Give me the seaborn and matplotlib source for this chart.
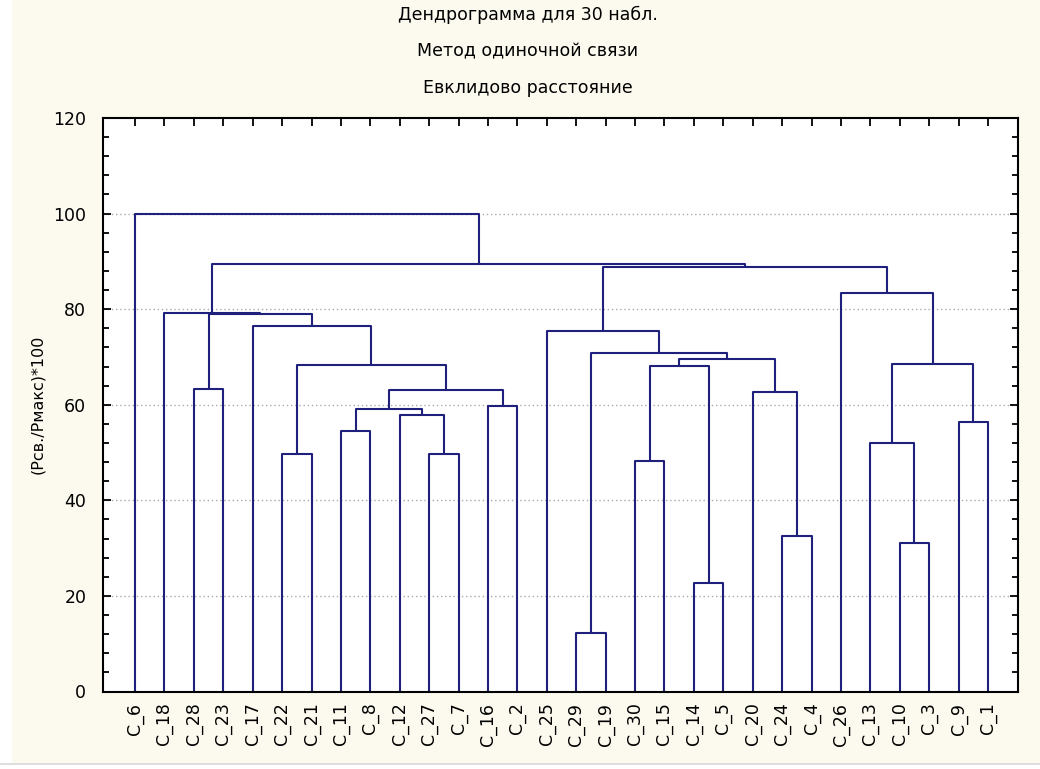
import matplotlib
matplotlib.use("Agg")
import matplotlib.pyplot as plt
from matplotlib.ticker import MultipleLocator
from matplotlib.patches import Rectangle
from matplotlib.lines import Line2D
import pandas as pd
import seaborn as sns

# Leaf order along the horizontal axis
leaf_labels = ["C_6", "C_18", "C_28", "C_23", "C_17", "C_22", "C_21", "C_11", "C_8",
               "C_12", "C_27", "C_7", "C_16", "C_2", "C_25", "C_29", "C_19", "C_30",
               "C_15", "C_14", "C_5", "C_20", "C_24", "C_4", "C_26", "C_13", "C_10",
               "C_3", "C_9", "C_1"]

# Single-linkage merge steps: the k-th step joins merge_a[k] and merge_b[k]
# at merge_height[k] and creates node "n{k}"
merge_a = ["C_29", "C_14", "C_10", "C_24", "C_30", "C_22", "C_27", "C_13", "C_11",
           "C_9", "C_12", "n8", "C_16", "C_20", "n11", "C_28", "n4", "n7", "n5",
           "n16", "n0", "C_25", "C_17", "n15", "C_18", "C_26", "n21", "n24", "C_6"]
merge_b = ["C_19", "C_5", "C_3", "C_4", "C_15", "C_21", "C_7", "n2", "C_8",
           "C_1", "n6", "n10", "C_2", "n3", "n12", "C_23", "n1", "n9", "n14",
           "n13", "n19", "n20", "n18", "n22", "n23", "n17", "n25", "n26", "n27"]
merge_height = [12.2, 22.8, 31.0, 32.5, 48.2, 49.6, 49.6, 51.9, 54.5,
                56.4, 57.8, 59.2, 59.8, 62.7, 63.1, 63.3, 68.1, 68.5, 68.3,
                69.6, 70.9, 75.4, 76.5, 78.9, 79.3, 83.3, 88.9, 89.5, 100.0]

y_ticks = [0, 20, 40, 60, 80, 100, 120]
y_label = "(Рсв./Рмакс)*100"
title_lines = ["Дендрограмма для 30 набл.", "Метод одиночной связи", "Евклидово расстояние"]

# Build the bracket polylines (one unit per merge)
pos = {name: float(i) for i, name in enumerate(leaf_labels)}
top = {name: 0.0 for name in leaf_labels}
rows = []
for k, (a, b, h) in enumerate(zip(merge_a, merge_b, merge_height)):
    left, right = (a, b) if pos[a] <= pos[b] else (b, a)
    pts = [(pos[left], top[left]), (pos[left], h), (pos[right], h), (pos[right], top[right])]
    for order, (px, py) in enumerate(pts):
        rows.append({"link": k, "order": order, "x": px, "y": py})
    node = f"n{k}"
    pos[node] = (pos[left] + pos[right]) / 2.0
    top[node] = h
links = pd.DataFrame(rows)

sns.set_theme(style="white")
plt.rcParams["font.family"] = ["DejaVu Sans"]
plt.rcParams["text.color"] = "black"
plt.rcParams["axes.labelcolor"] = "black"
plt.rcParams["xtick.color"] = "black"
plt.rcParams["ytick.color"] = "black"

cream = "#fcfaee"
line_color = "#1f1f7c"

fig = plt.figure(figsize=(10.40, 7.69), dpi=100)
fig.patch.set_facecolor("white")
fig.patches.append(Rectangle((12 / 1040, 5 / 769), 1 - 12 / 1040, 1 - 5 / 769,
                             transform=fig.transFigure, facecolor=cream,
                             edgecolor="none", zorder=-10))
fig.lines.append(Line2D([0, 1], [5 / 769, 5 / 769], transform=fig.transFigure,
                        color="#d8d8d8", lw=1.2))

ax = fig.add_axes([103 / 1040, 1 - 691.5 / 769, (1018 - 103) / 1040, (691.5 - 118) / 769])
ax.set_facecolor("white")

sns.lineplot(data=links, x="x", y="y", units="link", estimator=None, sort=False,
             color=line_color, linewidth=1.5, ax=ax, legend=False)

ax.set_xlim(-1.09, 30.02)
ax.set_ylim(0, 120)

# Dotted horizontal grid at the inner major ticks
for yv in y_ticks[1:-1]:
    ax.axhline(yv, color="#a9a9a9", lw=1.0, ls=(0, (1, 2)), zorder=0)

ax.set_xticks(range(len(leaf_labels)))
ax.set_xticklabels(leaf_labels, rotation=90, fontsize=12.5, va="top", ha="center",
                   color="black")
ax.set_yticks(y_ticks)
ax.set_yticklabels([str(v) for v in y_ticks], fontsize=12.5, color="black")
ax.yaxis.set_minor_locator(MultipleLocator(4))
ax.tick_params(axis="y", which="major", direction="in", length=6, width=1.3,
               left=True, right=True, color="black", labelcolor="black", pad=12)
ax.tick_params(axis="y", which="minor", direction="in", length=4, width=1.3,
               left=True, right=True, color="black")
ax.tick_params(axis="x", which="major", direction="in", length=6, width=1.3,
               top=True, bottom=True, color="black", labelcolor="black", pad=8)

for side in ["left", "right", "top", "bottom"]:
    ax.spines[side].set_visible(True)
    ax.spines[side].set_color("black")
    ax.spines[side].set_linewidth(1.5)

ax.set_xlabel("")
ax.set_ylabel(y_label, fontsize=11.5, labelpad=6, color="black")

for line_text, ypix in zip(title_lines, [15, 51, 88]):
    fig.text(528 / 1040, 1 - ypix / 769, line_text, ha="center", va="center",
             fontsize=12.5, color="black")

fig.savefig("out.png", dpi=100, facecolor=fig.get_facecolor())
